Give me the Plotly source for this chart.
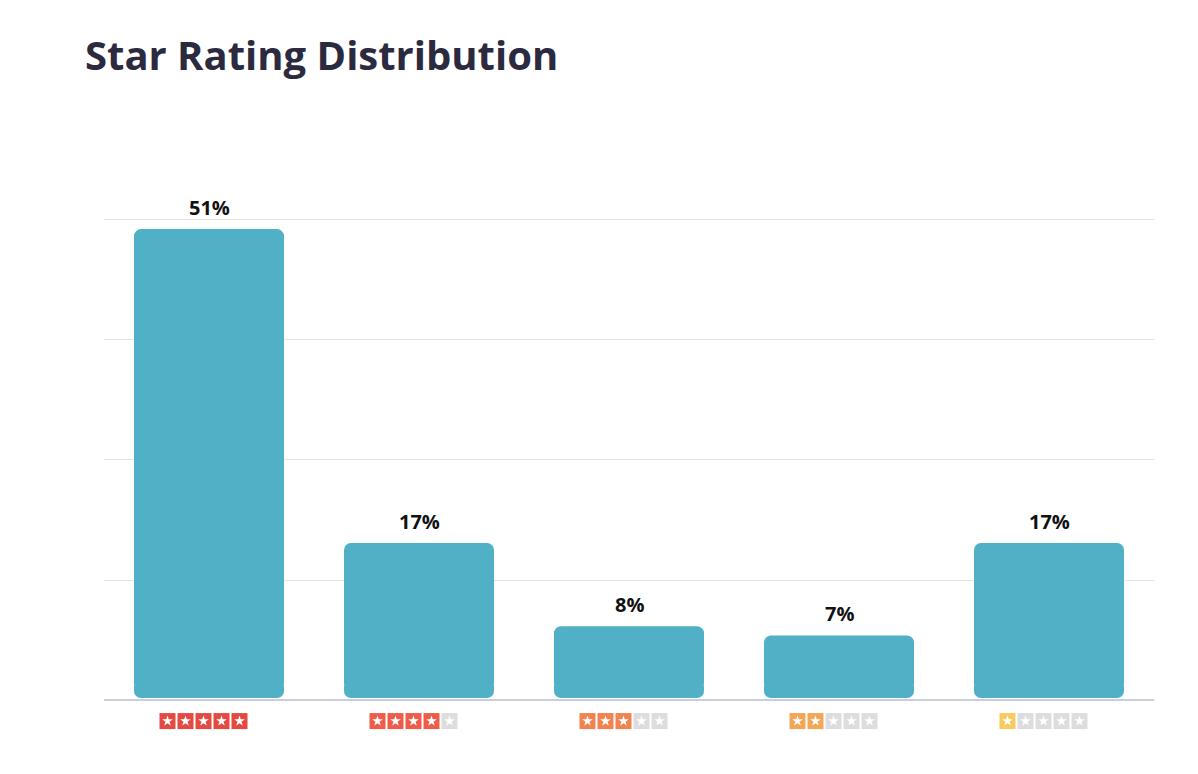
import plotly.graph_objects as go

categories = ["5 stars", "4 stars", "3 stars", "2 stars", "1 star"]
stars = [5, 4, 3, 2, 1]
percent = [51, 17, 8, 7, 17]
labels = ["51%", "17%", "8%", "7%", "17%"]
star_colors = ["#E24A42", "#EE5D4A", "#F0834F", "#F2A656", "#F8CB5E"]
empty_color = "#DDDDE0"
grid_ticks = [0, 13, 26, 39, 52]

W, H = 1198, 774
OFF = 8  # page body margin
n = len(categories)
plot_left, plot_right = 104 - OFF, 1154 - OFF
grid_top, baseline = 220 - OFF, 700 - OFF
ymax = grid_ticks[-1]
px_per_y = (baseline - grid_top) / ymax
ylo, yhi = -4.0, ymax + 0.2
t = grid_top - (yhi - ymax) * px_per_y
b = H - (baseline - ylo * px_per_y)
plot_w = plot_right - plot_left
px_per_x = plot_w / n
x_idx = list(range(n))
bar_w = 150 / px_per_x
gap = 2 / px_per_y
split_top = 10 / px_per_y
split_bot = 20 / px_per_y
bar_color = "#4FB0C6"

fig = go.Figure()
# lower piece: rounded bottom corners
fig.add_trace(go.Bar(
    x=x_idx, y=[-(split_bot - gap)] * n, base=[split_bot] * n,
    marker=dict(color=bar_color, line=dict(width=0)), marker_cornerradius=7,
    width=bar_w, hoverinfo="skip", showlegend=False,
))
# main piece: rounded top corners
fig.add_trace(go.Bar(
    x=x_idx, y=[v - split_top for v in percent], base=[split_top] * n,
    marker=dict(color=bar_color, line=dict(width=0)), marker_cornerradius=7,
    width=bar_w, hoverinfo="skip", showlegend=False,
))

# Star-rating icons under each bar
box_step = 18 / px_per_x
y_icon = -21 / px_per_y
sx, sy, sc = [], [], []
for i, s in enumerate(stars):
    for k in range(5):
        sx.append(i + (k - 2) * box_step - 5.5 / px_per_x)
        sy.append(y_icon)
        sc.append(star_colors[i] if k < s else empty_color)
fig.add_trace(go.Scatter(
    x=sx, y=sy, mode="markers", hoverinfo="skip", showlegend=False,
    marker=dict(symbol="square", size=16, color=sc, line=dict(width=0)),
))
fig.add_trace(go.Scatter(
    x=sx, y=sy, mode="markers", hoverinfo="skip", showlegend=False,
    marker=dict(symbol="star", size=8, color="white", line=dict(width=0)),
))

for i, (v, txt) in enumerate(zip(percent, labels)):
    fig.add_annotation(x=i, y=v, text="<b>%s</b>" % txt, showarrow=False,
                       yanchor="bottom", yshift=6,
                       font=dict(family="Open Sans", size=20, color="#111111"))

fig.update_layout(
    width=W, height=H,
    margin=dict(l=plot_left, r=W - plot_right, t=t, b=b, pad=0),
    paper_bgcolor="white", plot_bgcolor="white",
    barmode="overlay",
    title=dict(text="<b>Star Rating Distribution</b>", x=(85 - OFF) / W, xanchor="left",
               xref="container", yref="container", y=1 - (56 - OFF) / H, yanchor="middle",
               font=dict(family="Open Sans", size=40, color="#2B2A3F")),
    xaxis=dict(range=[-0.5, n - 0.5], showticklabels=False, showgrid=False,
               zeroline=False, showline=False, fixedrange=True),
    yaxis=dict(range=[ylo, yhi], tickvals=grid_ticks[1:], showticklabels=False,
               showgrid=True, gridcolor="#E4E4EA", gridwidth=1,
               zeroline=True, zerolinecolor="#C9CDDC", zerolinewidth=2,
               showline=False, fixedrange=True),
    font=dict(family="Open Sans"),
)

fig.write_html("out.html")
